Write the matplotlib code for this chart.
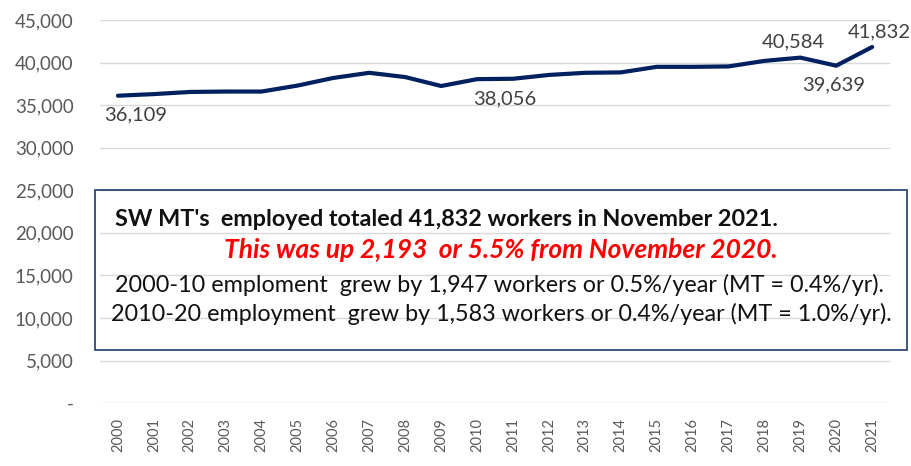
import matplotlib.pyplot as plt
from matplotlib.patches import Rectangle

plt.rcParams['font.family'] = ['Lato', 'DejaVu Sans']

years = [str(y) for y in range(2000, 2022)]
employed = [36109, 36300, 36550, 36600, 36600, 37300, 38200, 38800, 38300, 37250,
            38056, 38100, 38550, 38800, 38850, 39500, 39500, 39550, 40200, 40584,
            39639, 41832]
yticks = [0, 5000, 10000, 15000, 20000, 25000, 30000, 35000, 40000, 45000]
ytick_labels = ['-'] + [f'{v:,}' for v in yticks[1:]]

# labelled points: index -> (dx, dy) offset in points
labels = {0: (-10, -8), 10: (-3, -8), 19: (-5, 5), 20: (-2, -8), 21: (5, 5)}

fig = plt.figure(figsize=(9.12, 4.66), dpi=100)
ax = fig.add_axes([0.1096, 0.135, 0.8664, 0.822])

x = list(range(len(years)))
ax.plot(x, employed, color='#002060', linewidth=3, solid_capstyle='round')

for i, (dx, dy) in labels.items():
    txt = f'{employed[i]:,}'
    ax.annotate(txt, (x[i], employed[i]), xytext=(dx, dy), textcoords='offset points',
                ha='left' if i in (0, 10) else 'center',
                va='top' if dy < 0 else 'bottom', fontsize=14.5, color='#404040')

ax.set_xlim(-0.5, len(years) - 0.5)
ax.set_ylim(0, 45000)
ax.set_yticks(yticks)
ax.set_yticklabels(ytick_labels, fontsize=13.5, color='#595959')
ax.set_xticks(x)
ax.set_xticklabels(years, rotation=90, fontsize=10.5, color='#595959')
ax.tick_params(axis='y', length=0, pad=19)
ax.tick_params(axis='x', length=0, pad=11)
ax.grid(axis='y', color='#d9d9d9', linewidth=1)
ax.set_axisbelow(True)
for s in ax.spines.values():
    s.set_visible(False)

# text box
fig.patches.append(Rectangle((95 / 912, 1 - 350 / 466), 812 / 912, 160 / 466,
                             transform=fig.transFigure, fill=False,
                             edgecolor='#1f3864', linewidth=1.2))
fig.text(115 / 912, 1 - 220 / 466, "SW MT's  employed totaled 41,832 workers in November 2021.",
         fontsize=16.8, fontweight='bold', color='#111111', va='center', ha='left')
fig.text(501 / 912, 1 - 250 / 466, "This was up 2,193  or 5.5% from November 2020.",
         fontsize=19, fontweight='bold', style='italic', color='#ff0000', va='center', ha='center')
fig.text(499 / 912, 1 - 285 / 466,
         "2000-10 emploment  grew by 1,947 workers or 0.5%/year (MT = 0.4%/yr).",
         fontsize=16.8, color='#111111', va='center', ha='center')
fig.text(501 / 912, 1 - 314 / 466,
         "2010-20 employment  grew by 1,583 workers or 0.4%/year (MT = 1.0%/yr).",
         fontsize=16.8, color='#111111', va='center', ha='center')

fig.savefig('out.png', dpi=100)
